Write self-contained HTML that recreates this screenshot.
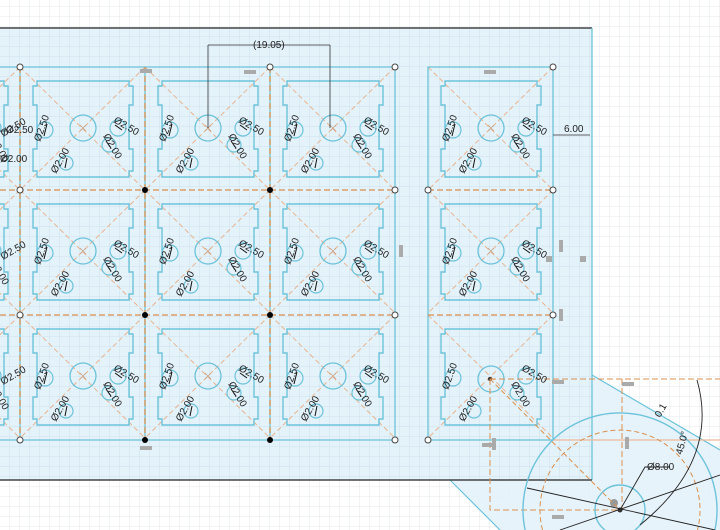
<!DOCTYPE html>
<html><head><meta charset="utf-8"><style>
html,body{margin:0;padding:0;background:#fff;width:720px;height:530px;overflow:hidden}
svg{display:block;overflow:hidden}
text{font-family:"Liberation Sans",sans-serif;font-size:10px;fill:#222}
</style></head><body>
<svg width="720" height="530" viewBox="0 0 720 530" xmlns="http://www.w3.org/2000/svg">
<defs>
<pattern id="g" width="10" height="10" patternUnits="userSpaceOnUse" x="0" y="7">
<path d="M10 0V10M0 10H10" fill="none" stroke="#dde3e8" stroke-width="0.8"/>
</pattern>
<pattern id="gb" width="10" height="10" patternUnits="userSpaceOnUse" x="0" y="7">
<rect width="10" height="10" fill="#e4f2fa"/>
<path d="M10 0V10M0 10H10" fill="none" stroke="#c9dfec" stroke-width="0.8"/>
</pattern>
<g id="cell">
<path d="M0 0L125 123M125 0L0 123" stroke="#e8b48f" stroke-width="1" stroke-dasharray="5,3" fill="none"/>
<path d="M17 14H109V19H113V38H109V82H113V104H109V110H17V104H13V82H17V38H13V19H17Z" fill="none" stroke="#6cc3d9" stroke-width="1.4"/>
<circle cx="63" cy="61" r="13" fill="none" stroke="#6cc3d9" stroke-width="1.3"/>
<path d="M60 58l6 6M66 58l-6 6" stroke="#c9a58a" stroke-width="0.8"/>
<circle cx="25" cy="63" r="8" fill="none" stroke="#6cc3d9" stroke-width="1.2"/>
<circle cx="98" cy="61" r="8" fill="none" stroke="#6cc3d9" stroke-width="1.2"/>
<circle cx="89" cy="78" r="7" fill="none" stroke="#6cc3d9" stroke-width="1.2"/>
<circle cx="46" cy="96" r="7" fill="none" stroke="#6cc3d9" stroke-width="1.2"/>
<path d="M27 57l-3 12M95 58l7 5M86 74l5 7M47 91l-2 10" stroke="#111" stroke-width="1"/>
</g>
</defs>
<rect width="720" height="530" fill="url(#g)"/>
<rect x="0" y="28" width="592" height="452" fill="url(#gb)"/>
<polygon points="592,375 720,450 720,530 592,530" fill="#e4f2fa" opacity="0.9"/>
<polygon points="450,480 592,480 592,530 500,530" fill="#e4f2fa" opacity="0.9"/>
<path d="M592 375L720 450M450 480L500 530" stroke="#6cc3d9" stroke-width="1.2"/>
<line x1="0" y1="28" x2="592" y2="28" stroke="#444" stroke-width="1.5"/>
<line x1="592" y1="28" x2="592" y2="480" stroke="#6cc3d9" stroke-width="1.3"/>
<line x1="0" y1="480" x2="592" y2="480" stroke="#444" stroke-width="1.5"/>

<use href="#cell" x="-105" y="67"/><use href="#cell" x="20" y="67"/><use href="#cell" x="145" y="67"/><use href="#cell" x="270" y="67"/><use href="#cell" x="428" y="67"/>
<use href="#cell" x="-105" y="190"/><use href="#cell" x="20" y="190"/><use href="#cell" x="145" y="190"/><use href="#cell" x="270" y="190"/><use href="#cell" x="428" y="190"/>
<use href="#cell" x="-105" y="315"/><use href="#cell" x="20" y="315"/><use href="#cell" x="145" y="315"/><use href="#cell" x="270" y="315"/>
<g transform="translate(428,315)">
<path d="M0 0L125 123M125 0L0 123" stroke="#e8b48f" stroke-dasharray="5,3" fill="none"/>
<path d="M17 14H109V19H113V38H109V82H113V104H109V110H17V104H13V82H17V38H13V19H17Z" fill="none" stroke="#6cc3d9" stroke-width="1.4"/>
<circle cx="63" cy="64" r="13" fill="none" stroke="#6cc3d9" stroke-width="1.3"/><circle cx="62" cy="64" r="2" fill="#333"/>
<circle cx="25" cy="63" r="8" fill="none" stroke="#6cc3d9" stroke-width="1.2"/><circle cx="98" cy="61" r="8" fill="none" stroke="#6cc3d9" stroke-width="1.2"/>
<circle cx="89" cy="78" r="7" fill="none" stroke="#6cc3d9" stroke-width="1.2"/><circle cx="46" cy="96" r="7" fill="none" stroke="#6cc3d9" stroke-width="1.2"/>
</g>

<g stroke="#6cc3d9" stroke-width="1.3" fill="none">
<path d="M0 67H395M20 67V440M145 67V440M270 67V440M395 67V440M0 440H395"/>
<rect x="428" y="67" width="125" height="373"/>
</g>
<g stroke="#d9904f" stroke-width="1.3" stroke-dasharray="6,3" fill="none">
<path d="M0 190H395M0 315H395M428 190H553M428 315H553M20 67V440M145 67V440M270 67V440"/>
<path d="M490 379H720M490 379V510H620M622 379V510" stroke-width="1"/>
</g>
<line x1="553" y1="440" x2="720" y2="440" stroke="#f0b89a" stroke-width="1.2"/>

<g fill="#fff" stroke="#444" stroke-width="1">
<circle cx="20" cy="67" r="3"/><circle cx="270" cy="67" r="3"/><circle cx="395" cy="67" r="3"/>
<circle cx="20" cy="190" r="3"/><circle cx="20" cy="315" r="3"/><circle cx="20" cy="440" r="3"/>
<circle cx="395" cy="190" r="3"/><circle cx="395" cy="315" r="3"/><circle cx="395" cy="440" r="3"/>
<circle cx="428" cy="190" r="3"/><circle cx="553" cy="67" r="3"/><circle cx="553" cy="190" r="3"/><circle cx="553" cy="315" r="3"/><circle cx="428" cy="440" r="3"/>
</g>
<g fill="#000"><circle cx="145" cy="190" r="3"/><circle cx="270" cy="190" r="3"/><circle cx="145" cy="315" r="3"/><circle cx="270" cy="315" r="3"/><circle cx="145" cy="440" r="3"/><circle cx="270" cy="440" r="3"/></g>
<g fill="#aaa"><rect x="140" y="69" width="12" height="4"/><rect x="244" y="70" width="12" height="4"/><rect x="484" y="70" width="12" height="4"/><rect x="140" y="446" width="12" height="4"/><rect x="399" y="245" width="4" height="12"/><rect x="559" y="240" width="4" height="12"/><rect x="559" y="309" width="4" height="12"/><rect x="552" y="380" width="12" height="4"/><rect x="622" y="382" width="12" height="4"/><rect x="482" y="443" width="12" height="4"/><rect x="492" y="438" width="4" height="12"/><rect x="625" y="437" width="4" height="12"/><rect x="552" y="515" width="12" height="4"/><rect x="580" y="256" width="6" height="6"/><rect x="546" y="256" width="6" height="6"/></g>

<g stroke="#333" stroke-width="0.8" fill="none">
<path d="M208 45H330M208 45V128M330 45V128"/>
<path d="M553 135H590"/><path d="M0 131H8"/>
</g>
<text x="253" y="48" font-size="9">(19.05)</text>
<text x="564" y="132">6.00</text>
<text x="6" y="133">Ø2.50</text>
<text x="0" y="162">Ø2.00</text>

<g>
<g transform="translate(-105,67)"><text transform="translate(108,70) rotate(-30)">Ø2.50</text><text transform="translate(95,72) rotate(60)">Ø2.00</text></g>
<g transform="translate(-105,190)"><text transform="translate(108,70) rotate(-30)">Ø2.50</text><text transform="translate(95,72) rotate(60)">Ø2.00</text></g>
<g transform="translate(-105,315)"><text transform="translate(108,70) rotate(-30)">Ø2.50</text><text transform="translate(95,72) rotate(60)">Ø2.00</text></g>
</g>
<g>
<g transform="translate(20,67)"><text transform="translate(20,75) rotate(-70)">Ø2.50</text><text transform="translate(93,55) rotate(30)">Ø2.50</text><text transform="translate(83,69) rotate(60)">Ø2.00</text><text transform="translate(36,107) rotate(-60)">Ø2.00</text></g>
<g transform="translate(145,67)"><text transform="translate(20,75) rotate(-70)">Ø2.50</text><text transform="translate(93,55) rotate(30)">Ø2.50</text><text transform="translate(83,69) rotate(60)">Ø2.00</text><text transform="translate(36,107) rotate(-60)">Ø2.00</text></g>
<g transform="translate(270,67)"><text transform="translate(20,75) rotate(-70)">Ø2.50</text><text transform="translate(93,55) rotate(30)">Ø2.50</text><text transform="translate(83,69) rotate(60)">Ø2.00</text><text transform="translate(36,107) rotate(-60)">Ø2.00</text></g>
<g transform="translate(428,67)"><text transform="translate(20,75) rotate(-70)">Ø2.50</text><text transform="translate(93,55) rotate(30)">Ø2.50</text><text transform="translate(83,69) rotate(60)">Ø2.00</text><text transform="translate(36,107) rotate(-60)">Ø2.00</text></g>
<g transform="translate(20,190)"><text transform="translate(20,75) rotate(-70)">Ø2.50</text><text transform="translate(93,55) rotate(30)">Ø2.50</text><text transform="translate(83,69) rotate(60)">Ø2.00</text><text transform="translate(36,107) rotate(-60)">Ø2.00</text></g>
<g transform="translate(145,190)"><text transform="translate(20,75) rotate(-70)">Ø2.50</text><text transform="translate(93,55) rotate(30)">Ø2.50</text><text transform="translate(83,69) rotate(60)">Ø2.00</text><text transform="translate(36,107) rotate(-60)">Ø2.00</text></g>
<g transform="translate(270,190)"><text transform="translate(20,75) rotate(-70)">Ø2.50</text><text transform="translate(93,55) rotate(30)">Ø2.50</text><text transform="translate(83,69) rotate(60)">Ø2.00</text><text transform="translate(36,107) rotate(-60)">Ø2.00</text></g>
<g transform="translate(428,190)"><text transform="translate(20,75) rotate(-70)">Ø2.50</text><text transform="translate(93,55) rotate(30)">Ø2.50</text><text transform="translate(83,69) rotate(60)">Ø2.00</text><text transform="translate(36,107) rotate(-60)">Ø2.00</text></g>
<g transform="translate(20,315)"><text transform="translate(20,75) rotate(-70)">Ø2.50</text><text transform="translate(93,55) rotate(30)">Ø2.50</text><text transform="translate(83,69) rotate(60)">Ø2.00</text><text transform="translate(36,107) rotate(-60)">Ø2.00</text></g>
<g transform="translate(145,315)"><text transform="translate(20,75) rotate(-70)">Ø2.50</text><text transform="translate(93,55) rotate(30)">Ø2.50</text><text transform="translate(83,69) rotate(60)">Ø2.00</text><text transform="translate(36,107) rotate(-60)">Ø2.00</text></g>
<g transform="translate(270,315)"><text transform="translate(20,75) rotate(-70)">Ø2.50</text><text transform="translate(93,55) rotate(30)">Ø2.50</text><text transform="translate(83,69) rotate(60)">Ø2.00</text><text transform="translate(36,107) rotate(-60)">Ø2.00</text></g>
<g transform="translate(428,315)"><text transform="translate(20,75) rotate(-70)">Ø2.50</text><text transform="translate(93,55) rotate(30)">Ø2.50</text><text transform="translate(83,69) rotate(60)">Ø2.00</text><text transform="translate(36,107) rotate(-60)">Ø2.00</text></g>
</g>

<path d="M525.1 530A97 97 0 1 1 714.9 530" fill="none" stroke="#6cc3d9" stroke-width="1.4"/>
<path d="M542.5 530A80 80 0 1 1 697.5 530" fill="none" stroke="#d9904f" stroke-width="1" stroke-dasharray="5,3"/>
<path d="M605 530A25 25 0 1 1 635 530" fill="none" stroke="#6cc3d9" stroke-width="1.4"/>
<circle cx="614" cy="503" r="4" fill="#999"/><circle cx="620" cy="510" r="2.5" fill="#333"/>
<line x1="490" y1="379" x2="620" y2="510" stroke="#d9904f" stroke-dasharray="5,3"/>
<g stroke="#222" stroke-width="0.9" fill="none">
<path d="M527 488L715 530M560 530L720 475M620 510L645 467H670"/>
<path d="M697 380Q720 460 640 525"/>
</g>
<text x="647" y="470">Ø8.00</text>
<text transform="translate(682,455) rotate(-75)">45.0°</text>
<text transform="translate(660,418) rotate(-60)" font-size="9">0.1</text>
</svg>
</body></html>
